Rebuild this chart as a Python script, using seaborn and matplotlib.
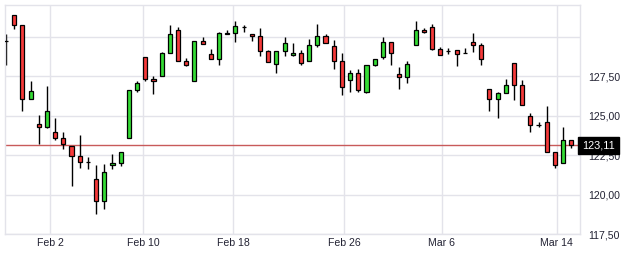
import matplotlib
matplotlib.use("Agg")
import matplotlib.pyplot as plt
import seaborn as sns
import numpy as np
import pandas as pd

# ---- data ----
opens = [129.73, 131.36, 130.73, 126.03, 124.44, 124.25, 123.94, 123.56, 123.07, 122.44,
         122.04, 120.96, 119.57, 121.85, 121.97, 123.56, 126.59, 128.68, 127.29, 127.48,
         128.94, 130.39, 128.43, 127.18, 129.70, 128.87, 128.56, 130.14, 130.20, 130.63,
         130.14, 130.01, 129.06, 128.24, 129.06, 128.81, 128.94, 128.43, 129.44, 130.01,
         129.38, 128.43, 127.23, 127.67, 126.47, 128.18, 128.68, 129.63, 127.61, 127.42,
         129.44, 130.39, 130.58, 129.19, 129.06, 129.13, 128.94, 129.63, 129.44, 126.66,
         126.03, 126.41, 128.30, 126.91, 124.95, 124.38, 124.57, 122.67, 121.97, 123.43]
highs = [130.19, 131.36, 130.73, 127.18, 125.03, 126.87, 124.82, 123.94, 123.07, 123.77,
         122.35, 121.87, 121.93, 122.56, 122.67, 126.59, 127.18, 128.68, 127.48, 129.00,
         130.73, 130.58, 128.62, 129.70, 129.95, 129.19, 130.27, 130.39, 130.96, 130.76,
         130.14, 130.54, 129.13, 129.06, 129.95, 129.57, 129.13, 129.82, 130.77, 130.14,
         129.76, 128.94, 127.86, 127.92, 128.18, 128.56, 129.95, 129.63, 128.05, 128.43,
         130.96, 130.52, 130.77, 129.32, 129.25, 129.13, 129.25, 130.20, 129.57, 126.66,
         126.47, 127.29, 128.30, 127.23, 125.14, 124.57, 125.62, 122.67, 124.25, 123.43]
lows = [128.23, 130.47, 125.30, 126.03, 123.20, 124.19, 123.45, 122.86, 120.56, 121.70,
        121.59, 118.78, 119.10, 121.63, 121.82, 123.56, 126.47, 127.20, 126.38, 127.48,
        128.94, 128.43, 128.11, 127.18, 129.51, 128.56, 128.18, 130.14, 129.63, 130.28,
        129.70, 128.75, 128.37, 127.67, 128.75, 128.75, 128.18, 128.43, 129.32, 129.57,
        127.92, 126.28, 126.47, 126.47, 126.41, 128.11, 128.56, 128.18, 126.66, 127.04,
        129.44, 130.20, 129.13, 128.81, 128.87, 128.11, 128.94, 129.00, 128.18, 125.30,
        124.82, 126.41, 125.96, 125.65, 123.94, 124.25, 122.67, 121.66, 121.97, 122.96]
closes = [129.73, 130.73, 126.03, 126.55, 124.25, 125.28, 123.56, 123.22, 122.44, 122.04,
          122.04, 119.57, 121.41, 121.99, 122.67, 126.59, 127.04, 127.29, 127.16, 128.94,
          130.14, 128.43, 128.18, 129.70, 129.51, 128.56, 130.20, 130.20, 130.65, 130.63,
          130.01, 129.06, 128.37, 129.06, 129.57, 128.94, 128.30, 129.44, 130.01, 129.57,
          128.43, 126.78, 127.67, 126.59, 128.18, 128.56, 129.63, 128.94, 127.42, 128.24,
          130.39, 130.27, 129.19, 128.81, 129.06, 128.87, 128.94, 129.44, 128.56, 126.03,
          126.41, 126.91, 126.91, 125.65, 124.38, 124.38, 122.67, 121.85, 123.43, 123.11]

tick_positions = [5.37, 16.76, 27.74, 41.29, 53.18, 67.21]
tick_labels = ["Feb 2", "Feb 10", "Feb 18", "Feb 26", "Mar 6", "Mar 14"]
y_ticks = [117.5, 120.0, 122.5, 125.0, 127.5]
y_tick_labels = ["117,50", "120,00", "122,50", "125,00", "127,50"]
extra_grid = [130.0]
last_price = 123.11
last_label = "123,11"

df = pd.DataFrame({"open": opens, "high": highs, "low": lows, "close": closes})
df["idx"] = np.arange(len(df))
df["bottom"] = df[["open", "close"]].min(axis=1)
df["height"] = (df["close"] - df["open"]).abs()
GREEN = "#35dc35"
RED = "#f53a3a"
df["color"] = np.where(df["close"] > df["open"], GREEN, RED)

# ---- styling ----
sns.set_theme(style="white")
plt.rcParams["font.family"] = ["Liberation Sans", "DejaVu Sans"]

fig = plt.figure(figsize=(6.25, 2.56), dpi=100)
ax = fig.add_axes([5 / 625, 22 / 256, 575 / 625, 229 / 256])

grid_c = "#e3e3ea"
for v in y_ticks + extra_grid:
    ax.axhline(v, color=grid_c, lw=1.0, zorder=0)
for p in tick_positions:
    ax.axvline(p, color=grid_c, lw=1.0, zorder=0)

# wicks
ax.vlines(df["idx"], df["low"], df["high"], color="black", lw=1.0, zorder=2)
# bodies
ax.bar(df["idx"], df["height"].where(df["height"] > 0, 0.001), bottom=df["bottom"],
       width=0.5, color=df["color"], edgecolor="black", linewidth=0.9, zorder=3)

ax.axhline(last_price, color="#c85a5a", lw=1.0, zorder=1)

ax.set_xlim(-0.12, 70.06)
ax.set_ylim(117.5, 132.0)

ax.set_xticks(tick_positions)
ax.set_xticklabels(tick_labels, fontsize=7.6, color="#222233")
ax.yaxis.tick_right()
ax.set_yticks(y_ticks)
ax.set_yticklabels(y_tick_labels, fontsize=7.6, color="#222233")
ax.tick_params(axis="both", length=0)
ax.tick_params(axis="y", pad=6)
ax.tick_params(axis="x", pad=3)
for lab in ax.get_yticklabels():
    lab.set_horizontalalignment("left")

for s in ax.spines.values():
    s.set_color(grid_c)
    s.set_linewidth(1.0)

ax.annotate(last_label, xy=(1.0, last_price), xycoords=("axes fraction", "data"),
            xytext=(1.5, 0), textcoords="offset points", ha="left", va="center",
            fontsize=7.8, color="white", zorder=10, annotation_clip=False,
            bbox=dict(boxstyle="square,pad=0.35", fc="black", ec="black"))

fig.savefig("out.png", dpi=100)
